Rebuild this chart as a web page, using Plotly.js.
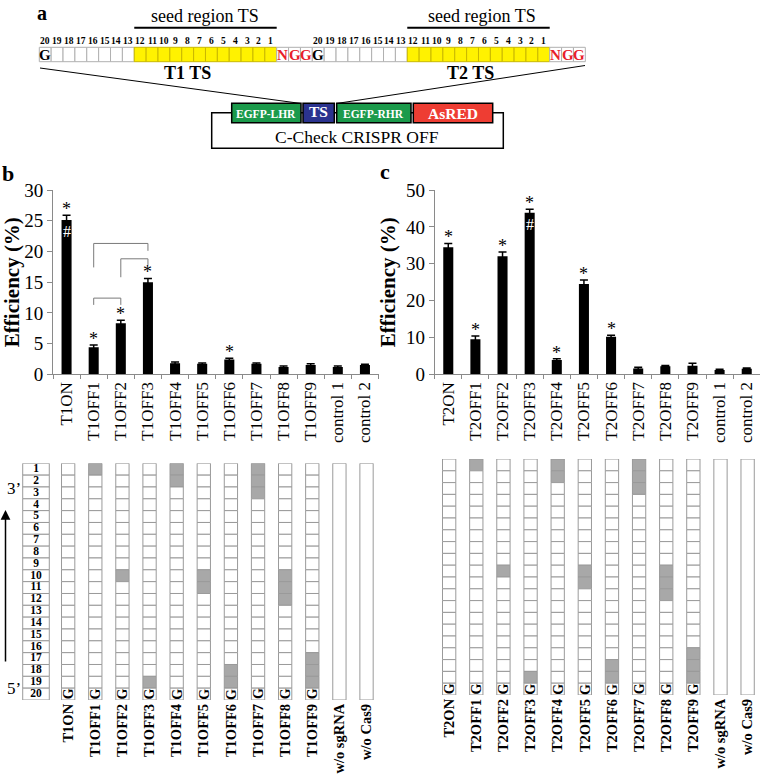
<!DOCTYPE html>
<html><head><meta charset="utf-8">
<script src="https://cdn.plot.ly/plotly-3.0.1.min.js"></script>
<style>html,body{margin:0;padding:0;background:#fff}</style>
</head><body><div id="chart" style="width:761px;height:778px"></div>
<script>
// ---------------- DATA ----------------
const t1Categories = ['T1ON','T1OFF1','T1OFF2','T1OFF3','T1OFF4','T1OFF5','T1OFF6','T1OFF7','T1OFF8','T1OFF9','control 1','control 2'];
const t1Efficiency = [25.1, 4.4, 8.3, 15.0, 1.8, 1.7, 2.4, 1.7, 1.2, 1.5, 1.2, 1.5];
const t1Error      = [0.8, 0.35, 0.5, 0.6, 0.2, 0.15, 0.2, 0.15, 0.15, 0.2, 0.15, 0.15];
const t1Star       = [1,1,1,1,0,0,1,0,0,0,0,0];
const t1Hash       = [1,0,0,0,0,0,0,0,0,0,0,0];

const t2Categories = ['T2ON','T2OFF1','T2OFF2','T2OFF3','T2OFF4','T2OFF5','T2OFF6','T2OFF7','T2OFF8','T2OFF9','control 1','control 2'];
const t2Efficiency = [34.5, 9.5, 32.0, 43.8, 3.9, 24.5, 10.2, 1.6, 2.2, 2.3, 1.2, 1.5];
const t2Error      = [1.0, 0.9, 1.2, 1.0, 0.3, 1.1, 0.4, 0.3, 0.2, 0.7, 0.2, 0.2];
const t2Star       = [1,1,1,1,1,1,1,0,0,0,0,0];
const t2Hash       = [0,0,0,1,0,0,0,0,0,0,0,0];

// comparison brackets in panel b (category index from/to, heights in %)
const bracketFrom        = [1, 2, 1];
const bracketTo          = [3, 3, 2];
const bracketTop         = [21.3, 18.8, 12.4];
const bracketLeftBottom  = [17.4, 15.8, 11.3];
const bracketRightBottom = [20.1, 17.8, 11.3];

const t1GridLabels = ['T1ON','T1OFF1','T1OFF2','T1OFF3','T1OFF4','T1OFF5','T1OFF6','T1OFF7','T1OFF8','T1OFF9','w/o sgRNA','w/o Cas9'];
const t2GridLabels = ['T2ON','T2OFF1','T2OFF2','T2OFF3','T2OFF4','T2OFF5','T2OFF6','T2OFF7','T2OFF8','T2OFF9','w/o sgRNA','w/o Cas9'];
// mismatch positions (1 = 3' end ... 20 = 5' end) for ON, OFF1..OFF9
const mismatchPositions = [[], [1], [10], [19], [1,2], [10,11], [18,19], [1,2,3], [10,11,12], [17,18,19]];
const gridRows = [1,2,3,4,5,6,7,8,9,10,11,12,13,14,15,16,17,18,19,20];

const protospacerNumbers = [20,19,18,17,16,15,14,13,12,11,10,9,8,7,6,5,4,3,2,1];
const pamLetters = ['N','G','G'];
const targetNames = ['T1 TS','T2 TS'];

// ---------------- LAYOUT HELPERS ----------------
const FONT = '"Liberation Serif", "Times New Roman", Times, serif';
const W = 761, H = 778;
const px = x => x / W;
const py = y => 1 - y / H;
const shapes = [], annotations = [];
const GRIDLINE = '#9a9a9a', MISFILL = '#a8a8a8';

function txt(x, y, text, size, color, extra) {
  annotations.push(Object.assign({xref:'paper', yref:'paper', x:px(x), y:py(y), text:text,
    showarrow:false, font:{family:FONT, size:size, color:color||'black'}, xanchor:'center', yanchor:'middle'}, extra||{}));
}
function rect(x0,y0,x1,y1,fill,line,lw) {
  shapes.push({type:'rect', xref:'paper', yref:'paper', x0:px(x0), x1:px(x1), y0:py(y0), y1:py(y1),
    fillcolor:fill, line:{color:line, width:lw===undefined?1:lw}});
}
function seg(x0,y0,x1,y1,color,w) {
  shapes.push({type:'line', xref:'paper', yref:'paper', x0:px(x0), x1:px(x1), y0:py(y0), y1:py(y1),
    line:{color:color, width:w}});
}

// ---------------- PANEL a (schematic) ----------------
txt(42, 1, '<b>a</b>', 20, 'black', {yanchor:'top', borderpad:0});
const cw = 11.87, cellTop = 47.3, cellBot = 61.7, rowStart = 39.3;
const labelOffset = [12.5, 13.3];
targetNames.forEach((name, t) => {
  const x0 = rowStart + t * 23 * cw;
  protospacerNumbers.forEach((n, i) => {
    const seed = n <= 12;
    rect(x0 + i*cw, cellTop, x0 + (i+1)*cw, cellBot, seed ? '#fff200' : 'white', seed ? '#c9b800' : '#b0b0b0', 1);
    txt(x0 + (i+0.5)*cw, 41.3, '<b>' + n + '</b>', 9.5);
  });
  txt(x0 + 0.5*cw, 55, '<b>G</b>', 15);
  pamLetters.forEach((l, k) => {
    rect(x0 + (20+k)*cw, cellTop, x0 + (21+k)*cw, cellBot, 'white', '#b0b0b0', 1);
    txt(x0 + (20.5+k)*cw, 55, '<b>' + l + '</b>', 15, '#e8202a');
  });
  seg(x0 + 8*cw, 27.7, x0 + 20*cw, 27.7, 'black', 2);
  txt(x0 + 14*cw + t*4, 16.5, 'seed region TS', 18);
  txt(x0 + labelOffset[t]*cw, 73, '<b>' + name + '</b>', 18);
});
// zoom lines to plasmid
seg(40, 68, 301, 103.5, 'black', 1);
seg(585, 65.5, 336.5, 103.5, 'black', 1);
// plasmid outline
rect(211.7, 112.7, 503.3, 148.3, 'white', 'black', 1.5);
rect(231.7, 103.3, 301, 122.7, '#1b9a4b', 'black', 1.5);
rect(303, 103.3, 334.3, 122.7, '#2b338f', 'black', 1.5);
rect(336.7, 103.3, 411, 122.7, '#1b9a4b', 'black', 1.5);
rect(413.3, 103.3, 492.7, 122.7, '#ee3d33', 'black', 1.5);
txt(266.3, 113.5, '<b>EGFP-LHR</b>', 11.5, 'white');
txt(318.7, 112, '<b>TS</b>', 15.5, 'white');
txt(373.8, 113.5, '<b>EGFP-RHR</b>', 11.5, 'white');
txt(453, 113, '<b>AsRED</b>', 15.5, 'white');
txt(357, 136.5, 'C-Check CRISPR OFF', 17.5);

// panel letters
txt(8, 173, '<b>b</b>', 22);
txt(385, 172, '<b>c</b>', 22);

// ---------------- BAR CHARTS ----------------
const traces = [];
function barTrace(cats, vals, errs, xa, ya) {
  return {type:'bar', x:cats, y:vals, xaxis:xa, yaxis:ya, width:0.37,
    marker:{color:'black', line:{width:0}},
    error_y:{type:'data', array:errs, visible:true, color:'black', thickness:1.5, width:4},
    hoverinfo:'skip', showlegend:false};
}
traces.push(barTrace(t1Categories, t1Efficiency, t1Error, 'x', 'y'));
traces.push(barTrace(t2Categories, t2Efficiency, t2Error, 'x2', 'y2'));

function marks(cats, vals, errs, stars, hashes, xa, ya) {
  cats.forEach((c, i) => {
    if (stars[i]) annotations.push({xref:xa, yref:ya, x:c, y:vals[i]+errs[i], text:'*', showarrow:false,
      yanchor:'bottom', yshift:-6, font:{family:FONT, size:18, color:'black'}});
    if (hashes[i]) annotations.push({xref:xa, yref:ya, x:c, y:vals[i], text:'#', showarrow:false,
      yanchor:'top', yshift:-1, font:{family:FONT, size:16, color:'white'}});
  });
}
marks(t1Categories, t1Efficiency, t1Error, t1Star, t1Hash, 'x', 'y');
marks(t2Categories, t2Efficiency, t2Error, t2Star, t2Hash, 'x2', 'y2');

bracketFrom.forEach((f, k) => {
  const to = bracketTo[k];
  const L = {color:'#7a7a7a', width:1};
  shapes.push({type:'line', xref:'x', yref:'y', x0:f, x1:f, y0:bracketLeftBottom[k], y1:bracketTop[k], line:L});
  shapes.push({type:'line', xref:'x', yref:'y', x0:f, x1:to, y0:bracketTop[k], y1:bracketTop[k], line:L});
  shapes.push({type:'line', xref:'x', yref:'y', x0:to, x1:to, y0:bracketRightBottom[k], y1:bracketTop[k], line:L});
});

// ---------------- MISMATCH GRIDS ----------------
function gridTraces(xa, ya, withNumbers, numX) {
  const gx = [], gy = [], gb = [], gw = [], gc = [];
  mismatchPositions.forEach((mm, col) => {
    gridRows.forEach(r => {
      gx.push(col); gy.push(1); gb.push(r-1); gw.push(0.49);
      gc.push(mm.indexOf(r) >= 0 ? MISFILL : 'white');
    });
  });
  if (withNumbers) {
    gridRows.forEach(r => { gx.push(numX); gy.push(1); gb.push(r-1); gw.push(0.98); gc.push('white'); });
  }
  // control columns: plain boxes
  [10, 11].forEach(col => { gx.push(col); gy.push(gridRows.length); gb.push(0); gw.push(0.49); gc.push('white'); });
  traces.push({type:'bar', x:gx, y:gy, base:gb, width:gw, xaxis:xa, yaxis:ya,
    marker:{color:gc, line:{color:GRIDLINE, width:1}}, hoverinfo:'skip', showlegend:false});
  if (withNumbers) {
    traces.push({type:'scatter', mode:'text', x:gridRows.map(() => numX), y:gridRows.map(r => r-0.5),
      text:gridRows.map(r => '<b>' + r + '</b>'), textfont:{family:FONT, size:11.5, color:'black'},
      xaxis:xa, yaxis:ya, hoverinfo:'skip', showlegend:false, cliponaxis:false});
  }
  mismatchPositions.forEach((mm, col) => {
    annotations.push({xref:xa, yref:ya, x:col, y:gridRows.length-0.5, text:'<b>G</b>', textangle:-90,
      showarrow:false, font:{family:FONT, size:14, color:'black'}});
  });
}
gridTraces('x3', 'y3', true, -1.186);
gridTraces('x4', 'y4', false, 0);

// 3' / 5' and arrow
txt(14, 488, "3’", 17);
txt(14, 688, "5’", 17);
annotations.push({xref:'paper', yref:'paper', x:px(5.5), y:py(510), ax:0, ay:153, axref:'pixel', ayref:'pixel',
  text:'', showarrow:true, arrowhead:2, arrowsize:1.3, arrowwidth:1.5, arrowcolor:'black'});

// ---------------- AXES ----------------
const tickFont = {family:FONT, size:17, color:'black'};
const yTickFont = {family:FONT, size:19, color:'black'};
const yTitle = {text:'<b>Efficiency (%)</b>', font:{family:FONT, size:21, color:'black'}, standoff:4};
const barY = [py(374.3), py(190)];
const gridTickFont = {family:FONT, size:14.5, color:'black', weight:'bold'};
const layout = {
  width:W, height:H, margin:{l:0, r:0, t:0, b:0}, autosize:false,
  paper_bgcolor:'white', plot_bgcolor:'rgba(0,0,0,0)', barmode:'overlay', showlegend:false,
  font:{family:FONT, color:'black'},
  xaxis:{domain:[px(53), px(378.5)], anchor:'y', type:'category', range:[-0.5, 11.5], showline:true, linecolor:'#8a8a8a',
    ticks:'outside', tickson:'boundaries', ticklen:4, tickcolor:'#8a8a8a', tickangle:-90, tickfont:tickFont,
    showgrid:false, zeroline:false, fixedrange:true, automargin:false},
  yaxis:{domain:barY, anchor:'x', range:[0, 30], dtick:5, showline:true, linecolor:'#8a8a8a', ticks:'outside',
    ticklen:5, tickcolor:'#8a8a8a', tickfont:yTickFont, showgrid:false, zeroline:false, title:yTitle,
    fixedrange:true, automargin:false},
  xaxis2:{domain:[px(434.7), px(760.3)], anchor:'y2', type:'category', range:[-0.5, 11.5], showline:true, linecolor:'#8a8a8a',
    ticks:'outside', tickson:'boundaries', ticklen:4, tickcolor:'#8a8a8a', tickangle:-90, tickfont:tickFont,
    showgrid:false, zeroline:false, fixedrange:true, automargin:false},
  yaxis2:{domain:barY, anchor:'x2', range:[0, 50], dtick:10, showline:true, linecolor:'#8a8a8a', ticks:'outside',
    ticklen:5, tickcolor:'#8a8a8a', tickfont:yTickFont, showgrid:false, zeroline:false, title:yTitle,
    fixedrange:true, automargin:false},
  xaxis3:{domain:[px(20), px(378.5)], anchor:'y3', range:[-1.776, 11.441], showline:false, showgrid:false, zeroline:false,
    tickmode:'array', tickvals:t1GridLabels.map((_, i) => i), ticktext:t1GridLabels, tickangle:-90, ticks:'',
    tickfont:gridTickFont, fixedrange:true, automargin:false},
  yaxis3:{domain:[py(700), py(463.3)], anchor:'x3', range:[20, 0], visible:false, fixedrange:true},
  xaxis4:{domain:[px(434.7), px(760.3)], anchor:'y4', range:[-0.533, 11.467], showline:false, showgrid:false, zeroline:false,
    tickmode:'array', tickvals:t2GridLabels.map((_, i) => i), ticktext:t2GridLabels, tickangle:-90, ticks:'',
    tickfont:gridTickFont, fixedrange:true, automargin:false},
  yaxis4:{domain:[py(695), py(459)], anchor:'x4', range:[20, 0], visible:false, fixedrange:true},
  shapes:shapes, annotations:annotations
};
Plotly.newPlot('chart', traces, layout, {displayModeBar:false, staticPlot:true});
</script></body></html>
